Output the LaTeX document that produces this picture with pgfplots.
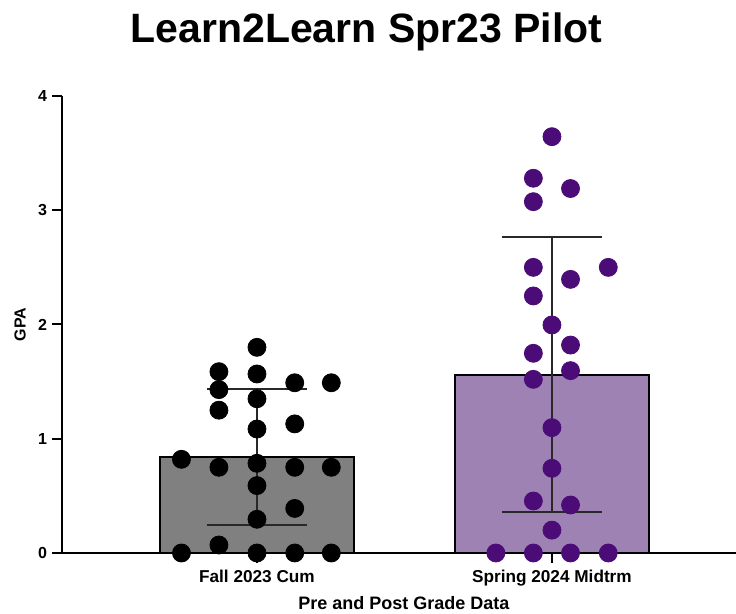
\documentclass[border=0pt]{standalone}
\usepackage{pgfplots}
\pgfplotsset{compat=1.18}
\usepackage{fontspec}
\setmainfont{Liberation Sans}
\definecolor{fallbar}{RGB}{128,128,128}
\definecolor{springbar}{RGB}{158,130,180}
\definecolor{springdot}{RGB}{75,12,120}
\definecolor{errcol}{RGB}{40,40,40}

\pgfplotstableread{
x y
0.744 0.82
0.744 0
0.871 1.587
0.871 1.43
0.871 1.25
0.871 0.75
0.871 0.07
1.000 1.80
1.000 1.567
1.000 1.35
1.000 1.085
1.000 0.785
1.000 0.59
1.000 0.295
1.000 0
1.128 1.49
1.128 1.13
1.128 0.75
1.128 0.39
1.128 0
1.252 1.49
1.252 0.75
1.252 0
}\falldata

\pgfplotstableread{
x y
1.810 0
1.937 3.28
1.937 3.075
1.937 2.50
1.937 2.25
1.937 1.748
1.937 1.52
1.937 0.455
1.937 0
2.000 3.644
2.000 1.996
2.000 1.097
2.000 0.741
2.000 0.20
2.063 3.19
2.063 2.395
2.063 1.82
2.063 1.596
2.063 0.42
2.063 0
2.191 2.50
2.191 0
}\springdata

\begin{document}
\begin{tikzpicture}
\useasboundingbox (-31pt,-30.5pt) rectangle (337pt,276.5pt);
\begin{axis}[
  at={(0,0)}, anchor=south west,
  scale only axis, width=337pt, height=228.5pt,
  xmin=0.339, xmax=2.624, ymin=0, ymax=4,
  axis x line*=bottom, axis y line*=left,
  axis line style={line width=1.2pt, black, -},
  xtick={1,2}, xticklabels={Fall 2023 Cum, Spring 2024 Midtrm},
  ytick={0,1,2,3,4},
  tick align=outside, major tick length=5pt,
  tick style={line width=1pt, black},
  /pgf/number format/assume math mode=true,
  yticklabel style={font=\bfseries\fontsize{8}{9}\selectfont, xshift=1pt},
  xticklabel style={font=\bfseries\fontsize{8.6}{10}\selectfont, yshift=0pt},
  xlabel={Pre and Post Grade Data},
  ylabel={GPA},
  every axis x label/.style={at={(rel axis cs:0.5074,0)}, anchor=center, yshift=-25pt, font=\bfseries\fontsize{9}{10}\selectfont},
  every axis y label/.style={at={(rel axis cs:0,0.5)}, xshift=-21pt, rotate=90, anchor=center, font=\bfseries\fontsize{8}{9}\selectfont},
  clip=false,
]
\addplot[ybar, bar shift=0pt, bar width=97pt, fill=fallbar, draw=black, line width=1.1pt] coordinates {(1,0.84)};
\addplot[ybar, bar shift=0pt, bar width=97pt, fill=springbar, draw=black, line width=1.1pt] coordinates {(2,1.56)};
\addplot[draw=none, mark=none,
  error bars/.cd, y dir=both, y explicit,
  error bar style={line width=1pt, draw=errcol},
  error mark options={rotate=90, mark size=25pt, line width=1pt, draw=errcol}]
  coordinates {(1,0.84) +- (0,0.595) (2,1.563) +- (0,1.207)};
\addplot[only marks, mark=*, mark size=4.5pt, black] table[x=x,y=y] {\falldata};
\addplot[only marks, mark=*, mark size=4.5pt, springdot, mark options={fill=springdot, draw=springdot}] table[x=x,y=y] {\springdata};
\end{axis}
\node[font=\bfseries\fontsize{20.5}{24}\selectfont, anchor=base] at (152.25pt,255pt) {Learn2Learn Spr23 Pilot};
\end{tikzpicture}
\end{document}
